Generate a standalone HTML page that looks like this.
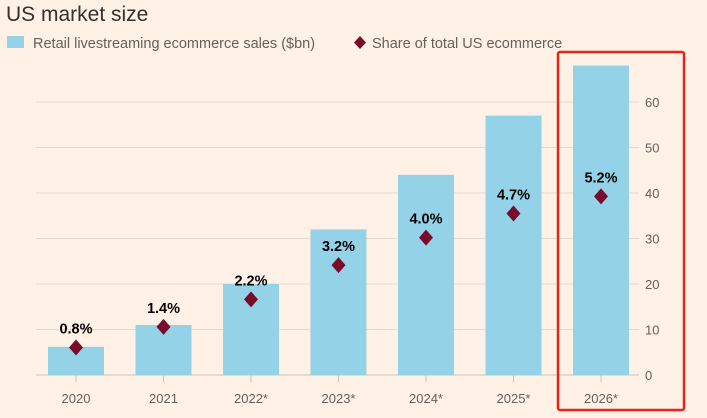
<!DOCTYPE html>
<html><head><meta charset="utf-8"><style>
body{margin:0;background:#fff1e5;}
svg{display:block;font-family:"Liberation Sans",sans-serif;}
</style></head><body>
<svg width="707" height="418" id="c">
<rect width="707" height="418" fill="#fff1e5"/>
<text x="6" y="21" font-size="21" fill="#33302e">US market size</text>
<g>
<rect x="7" y="36" width="17" height="12" fill="#94d2e7"/>
<text x="33" y="48" font-size="14.5" fill="#66605c">Retail livestreaming ecommerce sales ($bn)</text>
<path d="M360 36 L366 42.5 L360 49 L354 42.5Z" fill="#7a0a2c"/>
<text x="372" y="48" font-size="14.5" fill="#66605c">Share of total US ecommerce</text>
</g>
<g id="grid"></g><g id="bars"></g><g id="marks"></g>
<rect x="558" y="52" width="126" height="358" fill="none" stroke="#e8231d" stroke-width="2.5" rx="2"/>
</svg>
<script>
const categories=["2020","2021","2022*","2023*","2024*","2025*","2026*"];
const sales=[6.2,11,20,32,44,57,68];
const share=[0.8,1.4,2.2,3.2,4.0,4.7,5.2];
const shareLabels=["0.8%","1.4%","2.2%","3.2%","4.0%","4.7%","5.2%"];
const yTicks=[0,10,20,30,40,50,60];
const ns="http://www.w3.org/2000/svg";
const y=v=>375-v*4.55;
const ys=p=>y(p*7.55);
const x=i=>76+i*87.5;
function mk(t,a,p){const e=document.createElementNS(ns,t);for(const k in a)e.setAttribute(k,a[k]);p.appendChild(e);return e;}
const g=document.getElementById('grid'),b=document.getElementById('bars'),m=document.getElementById('marks');
yTicks.forEach(v=>{
 const l=mk('line',{x1:36,x2:639,y1:y(v),y2:y(v),stroke:v==0?'#ccc1b7':'#e6d9ce','stroke-width':1},g);
 
 
 const t=mk('text',{x:645,y:y(v)+5,'font-size':13,fill:'#66605c'},g);t.textContent=v;
 
 
});
categories.forEach((c,i)=>{
 const r=mk('rect',{x:x(i)-28,y:y(sales[i]),width:56,height:y(0)-y(sales[i]),fill:'#94d2e7'},b);
 
 
 const tk=mk('line',{x1:x(i),x2:x(i),y1:375,y2:382,stroke:'#ccc1b7'},g);
 
 
 const t=mk('text',{x:x(i),y:403,'font-size':13,fill:'#66605c','text-anchor':'middle'},g);t.textContent=c;
 
 
 const cy=ys(share[i]),cx=x(i);
 const d=mk('path',{d:`M${cx} ${cy-8} L${cx+7} ${cy} L${cx} ${cy+8} L${cx-7} ${cy}Z`,fill:'#7a0a2c'},m);
 
 
 const lt=mk('text',{x:cx,y:cy-14,'font-size':14.5,'font-weight':'bold',fill:'#000','text-anchor':'middle'},m);lt.textContent=shareLabels[i];
 
 
});
</script>
</body></html>
